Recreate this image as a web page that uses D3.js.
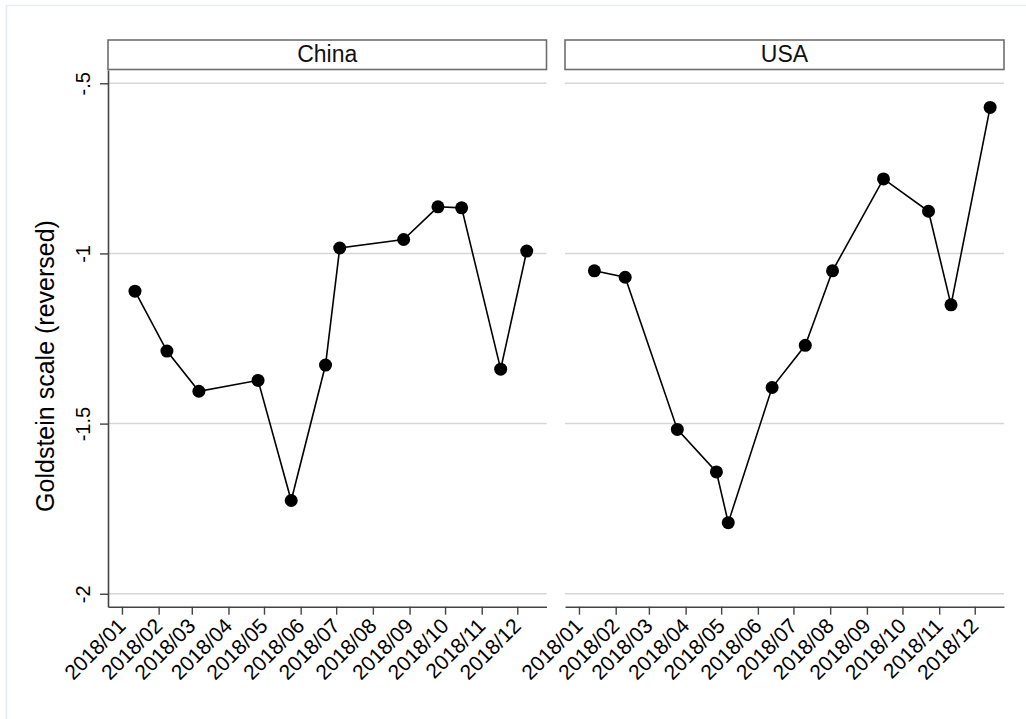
<!DOCTYPE html>
<html>
<head>
<meta charset="utf-8">
<script src="https://cdn.jsdelivr.net/npm/d3@7"></script>
<style>
  html, body { margin: 0; padding: 0; background: #fff; }
  svg { display: block; font-family: "Liberation Sans", Arial, sans-serif; }
</style>
</head>
<body>
<svg id="chart" width="1026" height="719"></svg>
<script>
// Monthly Goldstein-scale observations, one series per country
const chinaDates  = ["2018-01-12","2018-02-08","2018-03-07","2018-04-26","2018-05-24","2018-06-22",
                     "2018-07-04","2018-08-27","2018-09-25","2018-10-15","2018-11-17","2018-12-09"];
const chinaValues = [-1.111, -1.287, -1.405, -1.373, -1.726, -1.328,
                     -0.984, -0.959, -0.863, -0.866, -1.340, -0.993];

const usaDates    = ["2018-01-14","2018-02-09","2018-03-25","2018-04-27","2018-05-07","2018-06-13",
                     "2018-07-11","2018-08-03","2018-09-15","2018-10-23","2018-11-11","2018-12-14"];
const usaValues   = [-1.051, -1.070, -1.517, -1.642, -1.791, -1.394,
                     -1.270, -1.051, -0.781, -0.876, -1.151, -0.571];

const panelNames  = ["China", "USA"];
const xTickDates  = ["2018-01-01","2018-02-01","2018-03-01","2018-04-01","2018-05-01","2018-06-01",
                     "2018-07-01","2018-08-01","2018-09-01","2018-10-01","2018-11-01","2018-12-01"];
const yTickValues = [-2, -1.5, -1, -0.5];
const yTickLabels = ["-2", "-1.5", "-1", "-.5"];
const xDomain     = ["2017-12-20T05:00:00Z", "2018-12-25T17:00:00Z"];
const yDomain     = [-2.038, -0.461];
const yTitle      = "Goldstein scale (reversed)";

const parse = s => new Date(s.length > 10 ? s : s + "T00:00:00Z");
const fmtTick = d3.utcFormat("%Y/%m");

const svg = d3.select("#chart");

// light outer frame
svg.append("rect")
  .attr("x", 6.5).attr("y", 5.5).attr("width", 1030).attr("height", 730)
  .attr("fill", "none").attr("stroke", "#e6ecf0").attr("stroke-width", 1.5);

const plotTop = 70, plotBottom = 606.7;
const panels = [
  { name: panelNames[0], x0: 108, x1: 546.5, dates: chinaDates, values: chinaValues, yAxis: true },
  { name: panelNames[1], x0: 565, x1: 1004,  dates: usaDates,   values: usaValues,   yAxis: false }
];

const y = d3.scaleLinear().domain(yDomain).range([plotBottom, plotTop]);

panels.forEach(p => {
  const x = d3.scaleUtc().domain(xDomain.map(parse)).range([p.x0, p.x1]);
  const g = svg.append("g");

  // strip header
  g.append("rect")
    .attr("x", p.x0).attr("y", 40).attr("width", p.x1 - p.x0).attr("height", 29.5)
    .attr("fill", "#fff").attr("stroke", "#6e6e6e").attr("stroke-width", 1.6);
  g.append("text")
    .attr("x", (p.x0 + p.x1) / 2).attr("y", 62)
    .attr("text-anchor", "middle").attr("font-size", 23).attr("fill", "#111")
    .text(p.name);

  // horizontal gridlines
  g.append("g").selectAll("line").data(yTickValues).join("line")
    .attr("x1", p.x0).attr("x2", p.x1)
    .attr("y1", d => y(d)).attr("y2", d => y(d))
    .attr("stroke", "#d6d6d6").attr("stroke-width", 1.5);

  // x axis
  const xAxis = g.append("g")
    .attr("transform", `translate(0,${plotBottom})`)
    .call(d3.axisBottom(x).tickValues(xTickDates.map(parse)).tickSize(8).tickSizeOuter(0).tickFormat(fmtTick));
  xAxis.select(".domain").attr("stroke", "#444").attr("stroke-width", 1.6);
  xAxis.selectAll(".tick line").attr("stroke", "#444").attr("stroke-width", 1.4);
  xAxis.selectAll(".tick text")
    .attr("font-size", 21).attr("fill", "#000")
    .attr("text-anchor", "end")
    .attr("x", 0).attr("y", 0).attr("dy", "0.71em")
    .attr("transform", "translate(-6,10) rotate(-45)");

  // y axis on the first panel only
  if (p.yAxis) {
    const yAxis = g.append("g")
      .attr("transform", `translate(${p.x0},0)`)
      .call(d3.axisLeft(y).tickValues(yTickValues).tickSize(8).tickSizeOuter(0)
        .tickFormat((d, i) => yTickLabels[i]));
    yAxis.select(".domain").attr("stroke", "#444").attr("stroke-width", 1.6);
    yAxis.selectAll(".tick line").attr("stroke", "#444").attr("stroke-width", 1.4);
    yAxis.selectAll(".tick text")
      .attr("font-size", 20).attr("fill", "#000")
      .attr("text-anchor", "middle")
      .attr("x", 0).attr("dy", 0)
      .attr("transform", "translate(-18,0) rotate(-90)");
  }

  // series line and markers
  const pts = p.dates.map((d, i) => ({ date: parse(d), value: p.values[i] }));
  g.append("path")
    .datum(pts)
    .attr("fill", "none").attr("stroke", "#000").attr("stroke-width", 1.6)
    .attr("d", d3.line().x(d => x(d.date)).y(d => y(d.value)));
  g.append("g").selectAll("circle").data(pts).join("circle")
    .attr("cx", d => x(d.date)).attr("cy", d => y(d.value))
    .attr("r", 6.5).attr("fill", "#000");
});

// y axis title
svg.append("text")
  .attr("transform", "translate(54,366) rotate(-90)")
  .attr("text-anchor", "middle").attr("font-size", 25).attr("fill", "#000")
  .text(yTitle);
</script>
</body>
</html>
